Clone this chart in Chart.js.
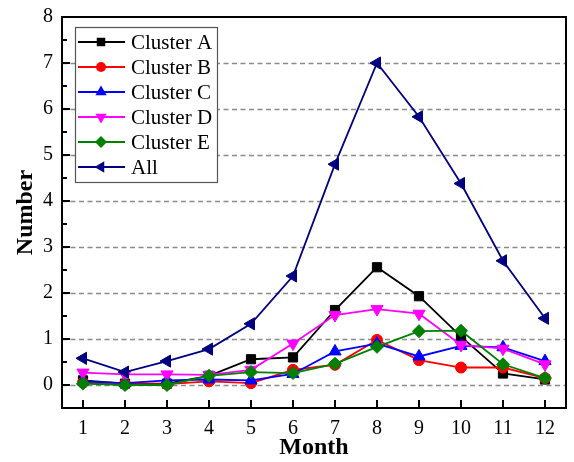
<!DOCTYPE html>
<html>
<head>
<meta charset="utf-8">
<script src="https://cdn.jsdelivr.net/npm/chart.js@4.4.1/dist/chart.umd.min.js"></script>
<style>
  html, body { margin: 0; padding: 0; background: #fff; }
  #wrap { width: 574px; height: 462px; }
</style>
</head>
<body>
<div id="wrap"><canvas id="grafico" width="574" height="462"></canvas></div>
<script>
// datos
const months = ["1", "2", "3", "4", "5", "6", "7", "8", "9", "10", "11", "12"];
const yTicks = [0, 1, 2, 3, 4, 5, 6, 7, 8];
const seriesNames = ["Cluster A", "Cluster B", "Cluster C", "Cluster D", "Cluster E", "All"];
const clusterA = [0.1, 0.03, 0.03, 0.2, 0.56, 0.6, 1.63, 2.56, 1.93, 1.05, 0.25, 0.12];
const clusterB = [0.05, 0.02, 0.02, 0.08, 0.04, 0.33, 0.44, 0.98, 0.54, 0.38, 0.38, 0.15];
const clusterC = [0.08, 0.04, 0.1, 0.12, 0.1, 0.24, 0.73, 0.9, 0.62, 0.85, 0.82, 0.52];
const clusterD = [0.27, 0.23, 0.23, 0.22, 0.33, 0.9, 1.52, 1.65, 1.55, 0.87, 0.79, 0.45];
const clusterE = [0.03, 0.0, 0.0, 0.2, 0.28, 0.26, 0.46, 0.83, 1.17, 1.18, 0.45, 0.15];
const allClusters = [0.58, 0.28, 0.52, 0.78, 1.33, 2.37, 4.8, 7.0, 5.83, 4.38, 2.7, 1.45];

const serif = "'Liberation Serif', 'Times New Roman', serif";

// estilo de cada serie
const estilos = [
    { color: "#000000", shape: "rect", rot: 0, r: 6.5 },
    { color: "#ff0000", shape: "circle", rot: 0, r: 5.5 },
    { color: "#0000ff", shape: "triangle", rot: 0, r: 7 },
    { color: "#ff00ff", shape: "triangle", rot: 180, r: 7 },
    { color: "#008000", shape: "rectRot", rot: 0, r: 6.5 },
    { color: "#000080", shape: "triangle", rot: 270, r: 7 }
];
const valores = [clusterA, clusterB, clusterC, clusterD, clusterE, allClusters];

const datasets = valores.map((vals, i) => ({
    label: seriesNames[i],
    data: vals,
    borderColor: estilos[i].color,
    backgroundColor: estilos[i].color,
    borderWidth: 1.8,
    pointStyle: estilos[i].shape,
    pointRotation: estilos[i].rot,
    pointRadius: estilos[i].r,
    pointBorderWidth: 1,
    tension: 0,
    order: seriesNames.length - i // "All" encima
}));

// dibuja un marcador para la leyenda
function drawMarker(ctx, shape, rot, r, x, y, color) {
    ctx.save();
    ctx.translate(x, y);
    ctx.rotate(rot * Math.PI / 180);
    ctx.fillStyle = color;
    ctx.beginPath();
    if (shape === "rect") {
        const s = r * Math.SQRT1_2;
        ctx.rect(-s, -s, 2 * s, 2 * s);
    } else if (shape === "circle") {
        ctx.arc(0, 0, r, 0, Math.PI * 2);
    } else if (shape === "rectRot") {
        ctx.moveTo(0, -r); ctx.lineTo(r, 0); ctx.lineTo(0, r); ctx.lineTo(-r, 0);
    } else {
        for (let k = 0; k < 3; k++) {
            const a = k * 2 * Math.PI / 3;
            ctx.lineTo(Math.sin(a) * r, -Math.cos(a) * r);
        }
    }
    ctx.closePath();
    ctx.fill();
    ctx.restore();
}

// rejilla discontinua, marco, marcas hacia dentro y leyenda
const marcoPlugin = {
    id: "marco",
    beforeDatasetsDraw(chart) {
        const { ctx, chartArea: a, scales } = chart;
        ctx.save();
        ctx.strokeStyle = "#8a8a8a";
        ctx.lineWidth = 1.3;
        ctx.setLineDash([5, 3.5]);
        yTicks.slice(0, -1).forEach(v => {
            const y = Math.round(scales.y.getPixelForValue(v)) + 0.5;
            ctx.beginPath();
            ctx.moveTo(a.left, y);
            ctx.lineTo(a.right, y);
            ctx.stroke();
        });
        ctx.restore();
    },
    afterDatasetsDraw(chart) {
        const { ctx, chartArea: a, scales } = chart;
        ctx.save();
        ctx.strokeStyle = "#000";
        ctx.lineWidth = 2;
        ctx.setLineDash([]);
        // marcas eje y (mayores y menores)
        yTicks.forEach(v => {
            let y = scales.y.getPixelForValue(v);
            ctx.beginPath(); ctx.moveTo(a.left, y); ctx.lineTo(a.left + 8, y); ctx.stroke();
            if (v < yTicks[yTicks.length - 1]) {
                y = scales.y.getPixelForValue(v + 0.5);
                ctx.beginPath(); ctx.moveTo(a.left, y); ctx.lineTo(a.left + 5, y); ctx.stroke();
            }
        });
        // marcas eje x
        months.forEach((m, i) => {
            const x = scales.x.getPixelForValue(i);
            ctx.beginPath(); ctx.moveTo(x, a.bottom); ctx.lineTo(x, a.bottom - 8); ctx.stroke();
        });
        ctx.strokeRect(a.left, a.top, a.right - a.left, a.bottom - a.top);

        // leyenda
        const lx = 75, ly = 27, lw = 142, lh = 155;
        ctx.fillStyle = "#fff";
        ctx.fillRect(lx, ly, lw, lh);
        ctx.strokeStyle = "#555";
        ctx.lineWidth = 1.2;
        ctx.strokeRect(lx + 0.5, ly + 0.5, lw, lh);
        ctx.font = "21px " + serif;
        ctx.textBaseline = "middle";
        chart.data.datasets.forEach((ds, i) => {
            const y = 42 + i * 25;
            const e = estilos[i];
            ctx.strokeStyle = e.color;
            ctx.lineWidth = 1.8;
            ctx.beginPath(); ctx.moveTo(78, y); ctx.lineTo(125, y); ctx.stroke();
            drawMarker(ctx, e.shape, e.rot, e.r - 0.5, 101, y, e.color);
            ctx.fillStyle = "#000";
            ctx.fillText(ds.label, 131, y + 1);
        });
        ctx.restore();
    }
};

const ctx = document.getElementById("grafico").getContext("2d");
const grafico = new Chart(ctx, {
    type: "line",
    data: { labels: months, datasets: datasets },
    options: {
        responsive: false,
        animation: false,
        devicePixelRatio: 1,
        layout: { padding: { top: 17, right: 6, left: 0, bottom: 0 } },
        plugins: { legend: { display: false }, tooltip: { enabled: false } },
        scales: {
            x: {
                type: "category",
                offset: true,
                grid: { display: false, drawTicks: false },
                border: { display: false },
                ticks: { color: "#000", font: { family: serif, size: 20 }, padding: 9, maxRotation: 0 },
                title: { display: true, text: "Month", color: "#000", font: { family: serif, size: 24, weight: "bold" }, padding: { top: 0, bottom: 0 } },
                afterFit(scale) { scale.height = 54; scale.paddingLeft = 0; scale.paddingRight = 0; }
            },
            y: {
                min: -0.5,
                max: 8,
                afterBuildTicks(scale) { scale.ticks = yTicks.map(v => ({ value: v })); },
                grid: { display: false, drawTicks: false },
                border: { display: false },
                ticks: { color: "#000", font: { family: serif, size: 20 }, padding: 9 },
                title: { display: true, text: "Number", color: "#000", font: { family: serif, size: 24, weight: "bold" }, padding: { top: 11, bottom: 0 } },
                afterFit(scale) { scale.width = 62; scale.paddingTop = 0; scale.paddingBottom = 0; }
            }
        }
    },
    plugins: [marcoPlugin]
});
</script>
</body>
</html>
